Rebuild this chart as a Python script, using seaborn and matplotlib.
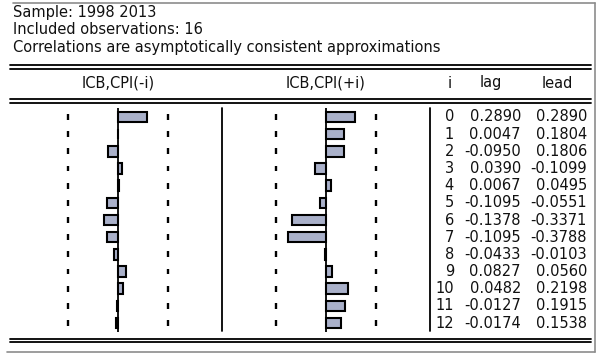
import numpy as np
import matplotlib
matplotlib.use("Agg")
import matplotlib.pyplot as plt
from matplotlib.lines import Line2D
import seaborn as sns

# Cross correlogram of ICB and CPI (EViews output)
lags = list(range(13))
lag_vals = [0.2890, 0.0047, -0.0950, 0.0390, 0.0067, -0.1095, -0.1378,
            -0.1095, -0.0433, 0.0827, 0.0482, -0.0127, -0.0174]
lead_vals = [0.2890, 0.1804, 0.1806, -0.1099, 0.0495, -0.0551, -0.3371,
             -0.3788, -0.0103, 0.0560, 0.2198, 0.1915, 0.1538]
n_obs = 16
header_lines = ["Sample: 1998 2013",
                "Included observations: 16",
                "Correlations are asymptotically consistent approximations"]
col_titles = ["ICB,CPI(-i)", "ICB,CPI(+i)", "i", "lag", "lead"]

sns.set_theme(style="white")
plt.rcParams["font.family"] = ["DejaVu Sans"]
FS = 10.5
bar_color = "#a9b0c9"
band = 2 / np.sqrt(n_obs)

W, H = 602, 360
fig = plt.figure(figsize=(W / 100, H / 100), dpi=100)


def fx(x):
    return x / W


def fy(y):
    return 1 - y / H


def hline(y, x0, x1, color="black", lw=1.3):
    fig.add_artist(Line2D([fx(x0), fx(x1)], [fy(y), fy(y)], color=color, lw=lw,
                          transform=fig.transFigure))


def vline(x, y0, y1, color="black", lw=1.3):
    fig.add_artist(Line2D([fx(x), fx(x)], [fy(y0), fy(y1)], color=color, lw=lw,
                          transform=fig.transFigure))


# outer frame (gray)
hline(3, 13, 595, color="#8c8c8c", lw=1.2)
vline(595, 3, 352, color="#8c8c8c", lw=1.2)
hline(352, 7, 595, color="#8c8c8c", lw=1.2)

# header text
for k, t in enumerate(header_lines):
    fig.text(fx(13), fy(12.5 + 17.5 * k), t, fontsize=FS, va="center", ha="left", color="#111111")

# double rules
for y in (65, 68.5, 99, 102.5, 338.5, 342):
    hline(y, 10, 591, lw=1.3)

# column titles
for t, x in zip(col_titles, (118, 326, 450, 491, 557)):
    fig.text(fx(x), fy(83), t, fontsize=FS, ha="center", va="center", color="#111111")

# row geometry: row 0 centred at y=117, spacing 17.17 px
top, bottom = 108.4, 331.6


def panel(x0, x1):
    return fig.add_axes([fx(x0), fy(bottom), fx(x1) - fx(x0), (bottom - top) / H])


for vals, (x0, x1) in ((lag_vals, (18, 218)), (lead_vals, (226, 426))):
    ax = panel(x0, x1)
    sns.barplot(x=vals, y=lags, orient="h", ax=ax, color=bar_color, saturation=1,
                edgecolor="black", linewidth=1.5, width=0.62)
    ax.set_xlim(-1, 1)
    ax.set_ylim(12.5, -0.5)
    ax.axvline(0, color="black", lw=1.3)
    for i in lags:
        ax.vlines([-band, band], i - 0.17, i + 0.17, color="black", lw=1.7)
    ax.set_axis_off()

# separators
vline(222, 108, 331)
vline(430, 108, 331)

# numeric table
tab = panel(430, 595)
tab.set_xlim(430, 595)
tab.set_ylim(12.5, -0.5)
tab.set_axis_off()
for i, a, b in zip(lags, lag_vals, lead_vals):
    tab.text(454, i, f"{i}", fontsize=FS, ha="right", va="center", color="#111111")
    tab.text(521, i, f"{a:.4f}", fontsize=FS, ha="right", va="center", color="#111111")
    tab.text(587, i, f"{b:.4f}", fontsize=FS, ha="right", va="center", color="#111111")

fig.savefig("out.png", dpi=100, facecolor="white")
